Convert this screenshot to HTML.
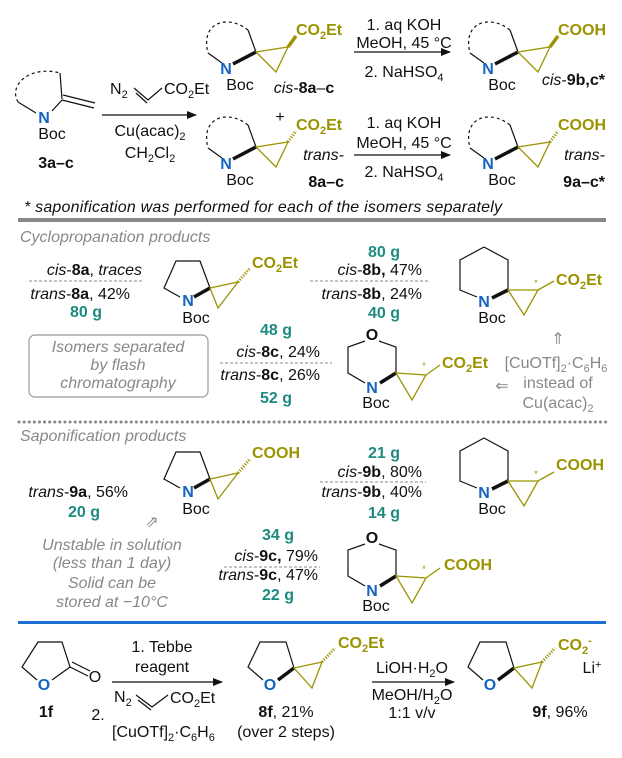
<!DOCTYPE html>
<html><head><meta charset="utf-8"><style>
html,body{margin:0;padding:0;background:#fff;}
svg{display:block;font-family:"Liberation Sans",Arial,sans-serif;}
.t{font-size:16px;fill:#111;}
.ol{fill:#9b9300;font-weight:bold;font-size:16px;}
.tl{fill:#1e8a80;font-weight:bold;font-size:16px;}
.g{fill:#888;font-size:16px;font-style:italic;}
.gr{fill:#888;font-size:16px;}
.nb{fill:#1565c0;font-weight:bold;font-size:16px;}
.k{stroke:#111;stroke-width:1.2;fill:none;}
.kd{stroke:#111;stroke-width:1.2;fill:none;stroke-dasharray:3 3;}
.bw{stroke:#111;stroke-width:3.5;}
.o{stroke:#9b9300;stroke-width:1.3;fill:none;}
.oh{stroke:#9b9300;stroke-width:3;stroke-dasharray:1.2 1.5;}
.ow{stroke:#9b9300;stroke-width:3.5;}
</style></head><body>
<svg width="622" height="758" viewBox="0 0 622 758" xmlns="http://www.w3.org/2000/svg">
<defs>
<marker id="ah" markerWidth="10" markerHeight="8" refX="9" refY="4" orient="auto" markerUnits="userSpaceOnUse"><path d="M0,0 L10,4 L0,8 Z" fill="#111"/></marker>
</defs>

<!-- ===== TOP ===== -->
<path class="kd" d="M18,102 C8,85 30,65 60,73"/>
<line class="k" x1="60" y1="73" x2="62" y2="99"/>
<line class="k" x1="18" y1="102" x2="36" y2="113"/>
<line class="k" x1="52" y1="111" x2="62" y2="100"/>
<line class="k" x1="62" y1="100" x2="94" y2="108"/>
<line class="k" x1="63" y1="95" x2="95" y2="103"/>
<text class="nb" x="44" y="123" text-anchor="middle">N</text>
<text class="t" x="52" y="139" text-anchor="middle">Boc</text>
<text class="t" x="56" y="168" text-anchor="middle" font-weight="bold">3a–c</text>

<line class="k" x1="102" y1="115" x2="196" y2="115" marker-end="url(#ah)"/>
<text class="t" x="110" y="94">N<tspan font-size="11" dy="4">2</tspan></text>
<path class="k" d="M134,88 L148,100 L162,88"/>
<line class="k" x1="136" y1="93" x2="147" y2="103"/>
<text class="t" x="164" y="94">CO<tspan font-size="11" dy="4">2</tspan><tspan dy="-4">Et</tspan></text>
<text class="t" x="150" y="136" text-anchor="middle">Cu(acac)<tspan font-size="11" dy="4">2</tspan></text>
<text class="t" x="150" y="158" text-anchor="middle">CH<tspan font-size="11" dy="4">2</tspan><tspan dy="-4">Cl</tspan><tspan font-size="11" dy="4">2</tspan></text>

<g id="cis8">
<path class="kd" d="M248,30 C228,14 200,22 208,53"/>
<line class="k" x1="248" y1="30" x2="256" y2="52"/>
<line class="k" x1="208" y1="53" x2="222" y2="63"/>
<line class="bw" x1="256" y1="52" x2="233" y2="64"/>
<polygon class="o" points="256,52 288,47 276,72"/>
<text class="nb" x="226" y="74" text-anchor="middle">N</text>
<text class="t" x="240" y="90" text-anchor="middle">Boc</text>
</g>
<line class="ow" x1="288" y1="47" x2="296" y2="36"/>
<text class="ol" x="296" y="35">CO<tspan font-size="11" dy="4">2</tspan><tspan dy="-4">Et</tspan></text>
<text class="t" x="304" y="93" text-anchor="middle"><tspan font-style="italic">cis</tspan>-<tspan font-weight="bold">8a</tspan>–<tspan font-weight="bold">c</tspan></text>

<use href="#cis8" transform="translate(262,0)"/>
<line class="ow" x1="550" y1="47" x2="558" y2="36"/>
<text class="ol" x="558" y="35">COOH</text>
<text class="t" x="605" y="85" text-anchor="end"><tspan font-style="italic">cis</tspan>-<tspan font-weight="bold">9b,c*</tspan></text>

<line class="k" x1="354" y1="52" x2="450" y2="52" marker-end="url(#ah)"/>
<text class="t" x="404" y="30" text-anchor="middle">1. aq KOH</text>
<text class="t" x="404" y="48" text-anchor="middle">MeOH, 45 °C</text>
<text class="t" x="404" y="77" text-anchor="middle">2. NaHSO<tspan font-size="11" dy="4">4</tspan></text>

<text class="t" x="280" y="122" text-anchor="middle">+</text>

<use href="#cis8" transform="translate(0,95)"/>
<line class="oh" x1="288" y1="142" x2="296" y2="131"/>
<text class="ol" x="296" y="130">CO<tspan font-size="11" dy="4">2</tspan><tspan dy="-4">Et</tspan></text>
<text class="t" x="344" y="160" text-anchor="end" font-style="italic">trans-</text>
<text class="t" x="344" y="187" text-anchor="end" font-weight="bold">8a–c</text>

<line class="k" x1="354" y1="155" x2="450" y2="155" marker-end="url(#ah)"/>
<text class="t" x="404" y="128" text-anchor="middle">1. aq KOH</text>
<text class="t" x="404" y="148" text-anchor="middle">MeOH, 45 °C</text>
<text class="t" x="404" y="177" text-anchor="middle">2. NaHSO<tspan font-size="11" dy="4">4</tspan></text>

<use href="#cis8" transform="translate(262,95)"/>
<line class="oh" x1="550" y1="142" x2="558" y2="131"/>
<text class="ol" x="558" y="130">COOH</text>
<text class="t" x="605" y="160" text-anchor="end" font-style="italic">trans-</text>
<text class="t" x="605" y="187" text-anchor="end" font-weight="bold">9a–c*</text>

<text class="t" x="24" y="212" font-style="italic" textLength="478">* saponification was performed for each of the isomers separately</text>
<rect x="18" y="218" width="588" height="4" fill="#8a8a8a"/>

<!-- ===== CYCLOPROPANATION ===== -->
<text class="g" x="20" y="242">Cyclopropanation products</text>

<text class="t" x="142" y="275" text-anchor="end"><tspan font-style="italic">cis</tspan>-<tspan font-weight="bold">8a</tspan>, <tspan font-style="italic">traces</tspan></text>
<line x1="29" y1="281" x2="143" y2="281" stroke="#888" stroke-dasharray="3 2"/>
<text class="t" x="130" y="299" text-anchor="end"><tspan font-style="italic">trans</tspan>-<tspan font-weight="bold">8a</tspan>, 42%</text>
<text class="tl" x="86" y="317" text-anchor="middle">80 g</text>

<g id="pyr">
<polyline class="k" points="180,297 164,288 176,261 200,261 210,288"/>
<line class="bw" x1="210" y1="288" x2="194" y2="297"/>
<polygon class="o" points="210,288 238,282 218,308"/>
<text class="nb" x="188" y="306" text-anchor="middle">N</text>
<text class="t" x="196" y="323" text-anchor="middle">Boc</text>
</g>
<line class="oh" x1="238" y1="282" x2="250" y2="268"/>
<text class="ol" x="252" y="268">CO<tspan font-size="11" dy="4">2</tspan><tspan dy="-4">Et</tspan></text>

<text class="tl" x="384" y="257" text-anchor="middle">80 g</text>
<text class="t" x="422" y="275" text-anchor="end"><tspan font-style="italic">cis</tspan>-<tspan font-weight="bold">8b, </tspan>47%</text>
<line x1="310" y1="281" x2="428" y2="281" stroke="#888" stroke-dasharray="3 2"/>
<text class="t" x="422" y="299" text-anchor="end"><tspan font-style="italic">trans</tspan>-<tspan font-weight="bold">8b</tspan>, 24%</text>
<text class="tl" x="384" y="318" text-anchor="middle">40 g</text>

<g id="pip">
<polyline class="k" points="477,297 460,290 460,260 484,247 508,260 508,290"/>
<line class="bw" x1="508" y1="290" x2="492" y2="298"/>
<polygon class="o" points="508,290 538,290 524,315"/>
<text x="536" y="286" font-size="9" fill="#9b9300" text-anchor="middle">*</text>
<line class="o" x1="538" y1="290" x2="554" y2="281"/>
<text class="nb" x="484" y="307" text-anchor="middle">N</text>
<text class="t" x="492" y="323" text-anchor="middle">Boc</text>
</g>
<text class="ol" x="556" y="285">CO<tspan font-size="11" dy="4">2</tspan><tspan dy="-4">Et</tspan></text>

<rect x="29" y="335" width="179" height="62" rx="6" fill="none" stroke="#999" stroke-width="1.2"/>
<text class="g" x="118" y="352" text-anchor="middle">Isomers separated</text>
<text class="g" x="118" y="370" text-anchor="middle">by flash</text>
<text class="g" x="118" y="388" text-anchor="middle">chromatography</text>

<text class="tl" x="276" y="335" text-anchor="middle">48 g</text>
<text class="t" x="320" y="357" text-anchor="end"><tspan font-style="italic">cis</tspan>-<tspan font-weight="bold">8c</tspan>, 24%</text>
<line x1="220" y1="363" x2="332" y2="363" stroke="#888" stroke-dasharray="3 2"/>
<text class="t" x="320" y="380" text-anchor="end"><tspan font-style="italic">trans</tspan>-<tspan font-weight="bold">8c</tspan>, 26%</text>
<text class="tl" x="276" y="403" text-anchor="middle">52 g</text>

<g id="mor">
<polyline class="k" points="365,341 348,347 348,373 365,383"/>
<polyline class="k" points="379,341 396,347 396,373"/>
<line class="bw" x1="396" y1="373" x2="380" y2="383"/>
<polygon class="o" points="396,373 426,375 412,400"/>
<text x="424" y="369" font-size="9" fill="#9b9300" text-anchor="middle">*</text>
<line class="o" x1="426" y1="375" x2="440" y2="365"/>
<text class="t" x="372" y="340" text-anchor="middle" font-weight="bold">O</text>
<text class="nb" x="372" y="393" text-anchor="middle">N</text>
<text class="t" x="376" y="408" text-anchor="middle">Boc</text>
</g>
<text class="ol" x="442" y="368">CO<tspan font-size="11" dy="4">2</tspan><tspan dy="-4">Et</tspan></text>

<text class="gr" x="558" y="344" text-anchor="middle" font-size="17">⇑</text>
<text class="gr" x="556" y="368" text-anchor="middle">[CuOTf]<tspan font-size="11" dy="4">2</tspan><tspan dy="-4">·C</tspan><tspan font-size="11" dy="4">6</tspan><tspan dy="-4">H</tspan><tspan font-size="11" dy="4">6</tspan></text>
<text class="gr" x="558" y="388" text-anchor="middle">instead of</text>
<text class="gr" x="558" y="408" text-anchor="middle">Cu(acac)<tspan font-size="11" dy="4">2</tspan></text>
<text class="gr" x="502" y="391" text-anchor="middle" font-size="17">⇐</text>

<line x1="19" y1="422" x2="606" y2="422" stroke="#888" stroke-width="3" stroke-dasharray="0.1 5" stroke-linecap="round"/>

<!-- ===== SAPONIFICATION ===== -->
<text class="g" x="20" y="441">Saponification products</text>

<text class="t" x="128" y="497" text-anchor="end"><tspan font-style="italic">trans</tspan>-<tspan font-weight="bold">9a</tspan>, 56%</text>
<text class="tl" x="84" y="517" text-anchor="middle">20 g</text>

<use href="#pyr" transform="translate(0,191)"/>
<line class="oh" x1="238" y1="473" x2="250" y2="459"/>
<text class="ol" x="252" y="458">COOH</text>

<text class="gr" x="152" y="527" text-anchor="middle" font-size="16">⇗</text>
<text class="g" x="112" y="550" text-anchor="middle">Unstable in solution</text>
<text class="g" x="112" y="568" text-anchor="middle">(less than 1 day)</text>
<text class="g" x="112" y="588" text-anchor="middle">Solid can be</text>
<text class="g" x="112" y="607" text-anchor="middle">stored at −10°C</text>

<text class="tl" x="384" y="458" text-anchor="middle">21 g</text>
<text class="t" x="422" y="477" text-anchor="end"><tspan font-style="italic">cis</tspan>-<tspan font-weight="bold">9b</tspan>, 80%</text>
<line x1="320" y1="482" x2="426" y2="482" stroke="#888" stroke-dasharray="3 2"/>
<text class="t" x="422" y="497" text-anchor="end"><tspan font-style="italic">trans</tspan>-<tspan font-weight="bold">9b</tspan>, 40%</text>
<text class="tl" x="384" y="518" text-anchor="middle">14 g</text>

<use href="#pip" transform="translate(0,191)"/>
<text class="ol" x="556" y="470">COOH</text>

<text class="tl" x="278" y="540" text-anchor="middle">34 g</text>
<text class="t" x="318" y="561" text-anchor="end"><tspan font-style="italic">cis</tspan>-<tspan font-weight="bold">9c, </tspan>79%</text>
<line x1="224" y1="567" x2="320" y2="567" stroke="#888" stroke-dasharray="3 2"/>
<text class="t" x="318" y="580" text-anchor="end"><tspan font-style="italic">trans</tspan>-<tspan font-weight="bold">9c</tspan>, 47%</text>
<text class="tl" x="278" y="600" text-anchor="middle">22 g</text>

<use href="#mor" transform="translate(0,203)"/>
<text class="ol" x="444" y="570">COOH</text>

<rect x="18" y="621" width="588" height="3" fill="#1a6fd0"/>

<!-- ===== BOTTOM ===== -->
<polyline class="k" points="37,680 22,667 38,642 62,642 70,667 52,680"/>
<line class="k" x1="70" y1="667" x2="88" y2="676"/>
<line class="k" x1="72" y1="662" x2="90" y2="671"/>
<text class="nb" x="44" y="690" text-anchor="middle">O</text>
<text class="t" x="95" y="682" text-anchor="middle">O</text>
<text class="t" x="46" y="717" text-anchor="middle" font-weight="bold">1f</text>

<line class="k" x1="112" y1="682" x2="222" y2="682" marker-end="url(#ah)"/>
<text class="t" x="162" y="652" text-anchor="middle">1. Tebbe</text>
<text class="t" x="162" y="672" text-anchor="middle">reagent</text>
<text class="t" x="114" y="702">N<tspan font-size="11" dy="4">2</tspan></text>
<path class="k" d="M136,695 L152,707 L168,695"/>
<line class="k" x1="138" y1="700" x2="151" y2="710"/>
<text class="t" x="170" y="703">CO<tspan font-size="11" dy="4">2</tspan><tspan dy="-4">Et</tspan></text>
<text class="t" x="98" y="720" text-anchor="middle">2.</text>
<text class="t" x="112" y="737">[CuOTf]<tspan font-size="11" dy="4">2</tspan><tspan dy="-4">·C</tspan><tspan font-size="11" dy="4">6</tspan><tspan dy="-4">H</tspan><tspan font-size="11" dy="4">6</tspan></text>

<g id="thf">
<polyline class="k" points="263,680 248,667 260,642 286,642 294,668"/>
<line class="bw" x1="294" y1="668" x2="278" y2="680"/>
<polygon class="o" points="294,668 322,662 312,688"/>
<text class="nb" x="270" y="690" text-anchor="middle">O</text>
</g>
<line class="oh" x1="322" y1="662" x2="335" y2="648"/>
<text class="ol" x="338" y="648">CO<tspan font-size="11" dy="4">2</tspan><tspan dy="-4">Et</tspan></text>
<text class="t" x="286" y="717" text-anchor="middle"><tspan font-weight="bold">8f</tspan>, 21%</text>
<text class="t" x="286" y="737" text-anchor="middle">(over 2 steps)</text>

<line class="k" x1="372" y1="682" x2="454" y2="682" marker-end="url(#ah)"/>
<text class="t" x="412" y="673" text-anchor="middle">LiOH·H<tspan font-size="11" dy="4">2</tspan><tspan dy="-4">O</tspan></text>
<text class="t" x="412" y="700" text-anchor="middle">MeOH/H<tspan font-size="11" dy="4">2</tspan><tspan dy="-4">O</tspan></text>
<text class="t" x="412" y="718" text-anchor="middle">1:1 v/v</text>

<use href="#thf" transform="translate(220,0)"/>
<line class="oh" x1="542" y1="662" x2="555" y2="648"/>
<text class="ol" x="558" y="650">CO<tspan font-size="11" dy="4">2</tspan><tspan font-size="11" dy="-10">-</tspan></text>
<text class="t" x="592" y="673" text-anchor="middle">Li<tspan font-size="11" dy="-5">+</tspan></text>
<text class="t" x="560" y="717" text-anchor="middle"><tspan font-weight="bold">9f</tspan>, 96%</text>
</svg>
</body></html>
